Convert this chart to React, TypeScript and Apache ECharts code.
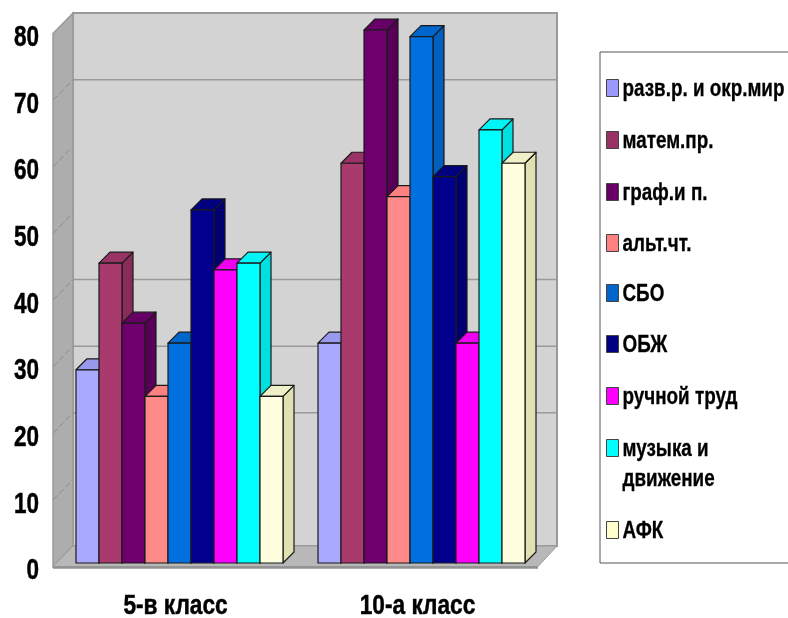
import React, { useEffect, useRef } from "react";
import * as echarts from "echarts";

const categories = ["5-в класс", "10-а класс"];
const yTicks = [0, 10, 20, 30, 40, 50, 60, 70, 80];
const wallGridTicks = [20, 30, 40, 70];
const seriesNames = ["разв.р. и окр.мир", "матем.пр.", "граф.и п.", "альт.чт.", "СБО", "ОБЖ", "ручной труд", "музыка и\nдвижение", "АФК"];
const class5Values = [29, 45, 36, 25, 33, 53, 44, 45, 25];
const class10Values = [33, 60, 80, 55, 79, 58, 33, 65, 60];
const frontColors = ["#a9a9ff", "#a93a6e", "#6e006e", "#ff8a8a", "#0070e0", "#00008c", "#ff00ff", "#00ffff", "#ffffe0"];
const sideColors = ["#8888d0", "#8a2c59", "#580058", "#d87070", "#005fbf", "#000070", "#d000d0", "#00e0e0", "#e0e0b0"];
const topColors = ["#9999ee", "#993366", "#660066", "#ff8080", "#0066cc", "#000080", "#f000f0", "#00f5f5", "#f0f0c8"];
const legendColors = ["#9999ff", "#993366", "#660066", "#ff8080", "#0066cc", "#000080", "#ff00ff", "#00ffff", "#ffffcc"];
const legendCenters = [88, 140, 192, 243, 293, 344, 396, 448, 530];

const FONT = "'Liberation Sans', Arial, sans-serif";
const BAR_W = 23;
const DEPTH = 11;
const TEXT_INK = { fill: "#000", stroke: "#000", lineWidth: 0.5 };

function renderFrame(params: any, api: any) {
  const cs = params.coordSys;
  const l = cs.x, r = cs.x + cs.width;
  const base = api.coord([0, 0])[1];
  const top = api.coord([0, 80])[1];
  const bx = 14.5, by = -17, fx = -5.5, fy = 3.5;
  const backL = l + bx, backR = r + bx, backB = base + by, backT = top + by;
  const frontL = l + fx, frontR = r + fx + 1, frontB = base + fy;
  const line = "#9a9a9a";
  const children: any[] = [
    { type: "rect", shape: { x: backL, y: backT, width: backR - backL, height: backB - backT }, style: { fill: "#d3d3d3", stroke: line, lineWidth: 2 } },
    { type: "polygon", shape: { points: [[frontL, top + fy], [backL, backT], [backL, backB], [frontL, frontB]] }, style: { fill: "#adadad", stroke: line, lineWidth: 1.5 } },
    { type: "polygon", shape: { points: [[frontL, frontB], [backL, backB], [backR, backB], [frontR, frontB]] }, style: { fill: "#b8b8b8", stroke: line, lineWidth: 1 } },
    { type: "line", shape: { x1: frontL, y1: frontB + 1, x2: frontR, y2: frontB + 1 }, style: { stroke: "#929292", lineWidth: 2.5 } },
  ];
  wallGridTicks.forEach((t) => {
    const y = api.coord([0, t])[1];
    children.push({ type: "line", shape: { x1: backL, y1: y + by, x2: backR, y2: y + by }, style: { stroke: "#9a9a9a", lineWidth: 1.5 } });
  });
  yTicks.slice(1, -1).forEach((t) => {
    const y = api.coord([0, t])[1];
    children.push({ type: "line", shape: { x1: frontL, y1: y + fy, x2: backL, y2: y + by }, style: { stroke: "#8a8a8a", lineWidth: 1, lineDash: [6, 3] } });
  });
  yTicks.forEach((t) => {
    children.push({
      type: "text",
      x: 39,
      y: api.coord([0, t])[1] + 6,
      scaleX: 0.75,
      style: { text: String(t), x: 0, y: 0, align: "right", verticalAlign: "middle", font: `bold 30px ${FONT}`, ...TEXT_INK },
    });
  });
  categories.forEach((c, i) => {
    children.push({
      type: "text",
      x: api.coord([i, 0])[0] - 4,
      y: 604,
      scaleX: 0.81,
      style: { text: c, x: 0, y: 0, align: "center", verticalAlign: "middle", font: `bold 28px ${FONT}`, ...TEXT_INK },
    });
  });
  return { type: "group", children };
}

function makeBarRenderer(i: number) {
  return (_params: any, api: any) => {
    const p = api.coord([api.value(0), api.value(1)]);
    const p0 = api.coord([api.value(0), 0]);
    const x0 = p[0] + (i - 4.5) * BAR_W;
    const x1 = x0 + BAR_W;
    const y1 = p[1];
    const b = p0[1];
    const edge = { stroke: "#1a1a1a", lineWidth: 1.2, lineJoin: "round" };
    return {
      type: "group",
      children: [
        { type: "polygon", shape: { points: [[x1, y1], [x1 + DEPTH, y1 - DEPTH], [x1 + DEPTH, b - DEPTH], [x1, b]] }, style: { fill: sideColors[i], ...edge } },
        { type: "polygon", shape: { points: [[x0, y1], [x0 + DEPTH, y1 - DEPTH], [x1 + DEPTH, y1 - DEPTH], [x1, y1]] }, style: { fill: topColors[i], ...edge } },
        { type: "rect", shape: { x: x0, y: y1, width: BAR_W, height: b - y1 }, style: { fill: frontColors[i], ...edge } },
      ],
    };
  };
}

function buildLegend() {
  const children: any[] = [
    { type: "rect", shape: { x: 600, y: 52, width: 220, height: 511 }, style: { fill: "#fff", stroke: "#555", lineWidth: 1 } },
  ];
  seriesNames.forEach((name, i) => {
    const c = legendCenters[i];
    children.push({ type: "rect", shape: { x: 606.5, y: c - 8.5, width: 12, height: 17 }, style: { fill: legendColors[i], stroke: "#444", lineWidth: 1 } });
    children.push({
      type: "text",
      x: 622.5,
      y: c - 15,
      scaleX: 0.82,
      style: { text: name, x: 0, y: 0, font: `bold 23px ${FONT}`, ...TEXT_INK, lineWidth: 0.3, lineHeight: 30, verticalAlign: "top", align: "left" },
    });
  });
  return children;
}

export default function App() {
  const ref = useRef<HTMLDivElement>(null);
  useEffect(() => {
    const chart = echarts.init(ref.current!, undefined, { renderer: "svg" });
    chart.setOption({
      animation: false,
      backgroundColor: "#fff",
      grid: { left: 58.5, top: 30, width: 484, height: 533 },
      xAxis: {
        type: "category",
        data: categories,
        axisLine: { show: false },
        axisTick: { show: false },
        axisLabel: { show: false },
      },
      yAxis: {
        type: "value",
        min: 0,
        max: 80,
        interval: 10,
        axisLine: { show: false },
        axisTick: { show: false },
        splitLine: { show: false },
        axisLabel: { show: false },
      },
      series: [
        { type: "custom", name: "frame", silent: true, z: 1, clip: false, renderItem: renderFrame, data: [[0, 0]] },
        ...seriesNames.map((name, i) => ({
          type: "custom",
          name,
          z: 2 + i,
          clip: false,
          renderItem: makeBarRenderer(i),
          encode: { x: 0, y: 1 },
          data: [[0, class5Values[i]], [1, class10Values[i]]],
        })),
      ],
      graphic: { elements: [{ type: "group", children: buildLegend() }] },
    });
    return () => chart.dispose();
  }, []);
  return <div ref={ref} style={{ position: "fixed", left: 0, top: 0, width: 788, height: 618, filter: "blur(0.35px)" }} />;
}
